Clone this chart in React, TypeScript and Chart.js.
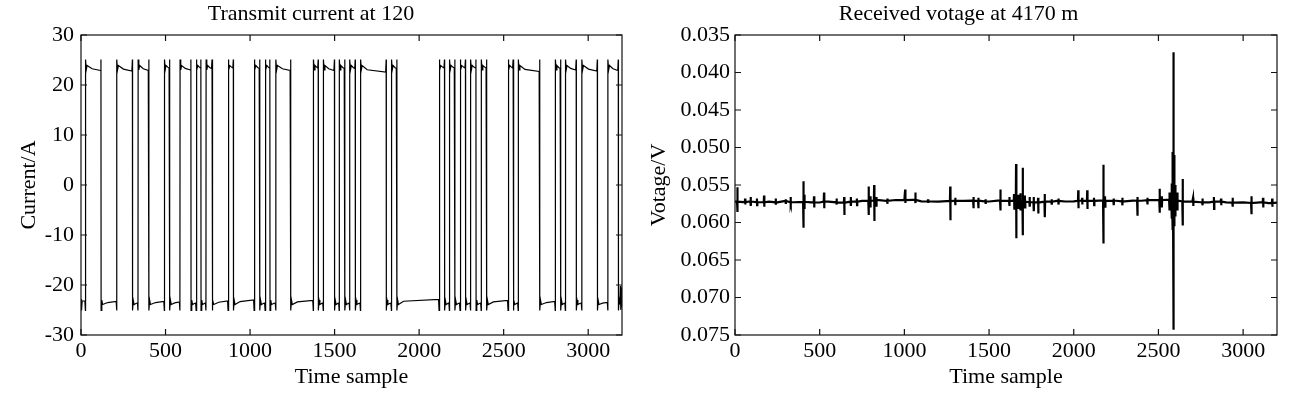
import React, { useEffect, useRef } from 'react';
import { Chart, registerables } from 'chart.js';

Chart.register(...registerables);

const SERIF = "'Liberation Serif', 'Times New Roman', Times, serif";

// ---------- tick labels ----------
const timeTicks = [0, 500, 1000, 1500, 2000, 2500, 3000];
const currentTicks = [-30, -20, -10, 0, 10, 20, 30];
const voltageTicks = [0.035, 0.04, 0.045, 0.05, 0.055, 0.06, 0.065, 0.07, 0.075];

// ---------- transmit current (left) ----------
// sample index of each polarity switch (starts low)
const switchTimes = [
  27, 119, 212, 305, 338, 402, 494, 525, 586, 651, 682, 710, 740, 776, 871, 902,
  1025, 1058, 1090, 1118, 1153, 1241, 1375, 1404, 1434, 1500, 1528, 1561, 1590, 1623,
  1654, 1806, 1837, 1869, 2119, 2151, 2180, 2212, 2243, 2275, 2305, 2337, 2368, 2400,
  2527, 2557, 2587, 2714, 2806, 2838, 2866, 2930, 2963, 3055, 3117, 3179,
];
// |current| at the end of each plateau (A)
const plateauEndLevels = [
  23.2, 22.9, 23.3, 22.8, 23.6, 22.9, 23.3, 23.4, 23.4, 23.0, 23.6, 23.4, 23.6, 23.3,
  23.2, 23.4, 23.0, 23.3, 23.6, 23.4, 23.6, 22.9, 23.1, 23.4, 23.6, 22.9, 23.6, 23.3,
  23.6, 23.3, 23.6, 22.6, 23.6, 23.3, 22.9, 23.4, 23.6, 23.4, 23.6, 23.4, 23.6, 23.4,
  23.6, 23.4, 23.1, 23.4, 23.6, 22.7, 23.3, 23.3, 23.6, 23.0, 23.6, 22.8, 23.5, 22.9,
  23.6,
];
const plateauStartLevel = 23.9;
const overshootLevel = 25.1;
const ringLevel = 23.0;
const tailTimes = [3190, 3193, 3196, 3199];
const tailValues = [-20.2, -25.0, -20.5, -24.5];

// ---------- received voltage (right) ----------
const baseTimes = [
  0, 50, 100, 150, 200, 250, 300, 350, 400, 450, 500, 550, 600, 650, 700, 750, 800, 850,
  900, 950, 1000, 1050, 1100, 1150, 1200, 1250, 1300, 1350, 1400, 1450, 1500, 1550, 1600,
  1650, 1700, 1750, 1800, 1850, 1900, 1950, 2000, 2050, 2100, 2150, 2200, 2250, 2300, 2350,
  2400, 2450, 2500, 2550, 2600, 2650, 2700, 2750, 2800, 2850, 2900, 2950, 3000, 3050, 3100,
  3150, 3200,
];
const baseValues = [
  0.05722, 0.05728, 0.05720, 0.05730, 0.05722, 0.05731, 0.05712, 0.05730, 0.05724, 0.05731,
  0.05733, 0.05722, 0.05731, 0.05734, 0.05722, 0.05712, 0.05710, 0.05702, 0.05712, 0.05700,
  0.05702, 0.05698, 0.05718, 0.05720, 0.05722, 0.05716, 0.05710, 0.05712, 0.05708, 0.05712,
  0.05720, 0.05708, 0.05712, 0.05710, 0.05722, 0.05730, 0.05732, 0.05722, 0.05712, 0.05720,
  0.05718, 0.05710, 0.05712, 0.05708, 0.05712, 0.05710, 0.05718, 0.05708, 0.05710, 0.05702,
  0.05700, 0.05698, 0.05708, 0.05718, 0.05722, 0.05730, 0.05732, 0.05722, 0.05732, 0.05734,
  0.05732, 0.05740, 0.05732, 0.05742, 0.05736,
];
// spike events: time, most-negative excursion (upward on reversed axis), most-positive excursion
const spikeTimes = [
  14, 60, 93, 130, 172, 241, 300, 329, 404, 410, 467, 526, 600, 645, 684, 720, 789, 800,
  822, 835, 900, 1005, 1065, 1140, 1271, 1301, 1408, 1437, 1480, 1567, 1620, 1648, 1660,
  1672, 1685, 1699, 1712, 1740, 1764, 1790, 1829, 1870, 1910, 2027, 2050, 2080, 2120, 2175,
  2185, 2236, 2287, 2376, 2435, 2507, 2520, 2565, 2578, 2583, 2588, 2593, 2600, 2612, 2643,
  2705, 2760, 2828, 2870, 2938, 3049, 3118, 3172,
];
const spikeUps = [
  0.0553, 0.0568, 0.0566, 0.0568, 0.0564, 0.0568, 0.0569, 0.0566, 0.0545, 0.0563, 0.0565,
  0.0560, 0.0568, 0.0566, 0.0566, 0.0568, 0.0552, 0.0565, 0.0550, 0.0566, 0.0568, 0.0556,
  0.0560, 0.0569, 0.0552, 0.0567, 0.0566, 0.0567, 0.0569, 0.0556, 0.0566, 0.0562, 0.0522,
  0.0563, 0.0561, 0.0527, 0.0564, 0.0566, 0.0566, 0.0567, 0.0562, 0.0569, 0.0568, 0.0557,
  0.0567, 0.0557, 0.0567, 0.0523, 0.0565, 0.0568, 0.0567, 0.0566, 0.0567, 0.0555, 0.0565,
  0.0560, 0.0548, 0.0506, 0.0373, 0.0510, 0.0550, 0.0560, 0.0542, 0.0567, 0.0568, 0.0566,
  0.0568, 0.0567, 0.0565, 0.0567, 0.0568,
];
const spikeDowns = [
  0.0586, 0.0576, 0.0578, 0.0577, 0.0579, 0.0576, 0.0575, 0.0575, 0.0607, 0.0582, 0.0580,
  0.0581, 0.0576, 0.0590, 0.0578, 0.0577, 0.0590, 0.0580, 0.0598, 0.0579, 0.0575, 0.0574,
  0.0574, 0.0574, 0.0597, 0.0577, 0.0581, 0.0581, 0.0575, 0.0584, 0.0578, 0.0583, 0.0621,
  0.0582, 0.0584, 0.0617, 0.0580, 0.0579, 0.0585, 0.0588, 0.0593, 0.0576, 0.0576, 0.0581,
  0.0576, 0.0582, 0.0577, 0.0628, 0.0579, 0.0577, 0.0577, 0.0591, 0.0576, 0.0587, 0.0580,
  0.0584, 0.0595, 0.0610, 0.0743, 0.0605, 0.0592, 0.0584, 0.0604, 0.0578, 0.0577, 0.0582,
  0.0577, 0.0579, 0.0589, 0.0580, 0.0579,
];

type P = { x: number; y: number };

function buildCurrent(): P[] {
  const pts: P[] = [];
  const n = switchTimes.length + 1;
  for (let i = 0; i < n; i++) {
    const a = i === 0 ? 0 : switchTimes[i - 1];
    const b = i === n - 1 ? 3200 : switchTimes[i];
    const s = i % 2 === 0 ? -1 : 1;
    const endLvl = plateauEndLevels[i];
    if (i === 0) {
      pts.push({ x: 0, y: s * 22.8 }, { x: 3, y: s * overshootLevel }, { x: 7, y: s * endLvl });
    } else {
      pts.push({ x: a, y: s * overshootLevel });
      pts.push({ x: a + 4, y: s * ringLevel });
      pts.push({ x: a + 9, y: s * plateauStartLevel });
      const knee = a + 9 + Math.min(30, (b - a) / 3);
      if (knee < b - 6) pts.push({ x: knee, y: s * (endLvl + 0.35 * (plateauStartLevel - endLvl)) });
    }
    if (i < n - 1) {
      pts.push({ x: b - 4, y: s * endLvl });
      pts.push({ x: b - 1, y: s * overshootLevel });
    } else {
      pts.push({ x: tailTimes[0] - 3, y: s * endLvl });
      tailTimes.forEach((t, k) => pts.push({ x: t, y: tailValues[k] }));
    }
  }
  return pts;
}

function nearestBase(t: number): number {
  let best = 0;
  for (let i = 0; i < baseTimes.length; i++) {
    if (Math.abs(baseTimes[i] - t) < Math.abs(baseTimes[best] - t)) best = i;
  }
  return baseValues[best];
}

function buildVoltage(): P[] {
  const pts: P[] = baseTimes.map((t, i) => ({ x: t, y: baseValues[i] }));
  spikeTimes.forEach((t, i) => {
    const b = nearestBase(t);
    pts.push({ x: t - 2, y: b });
    pts.push({ x: t - 0.5, y: spikeUps[i] });
    pts.push({ x: t + 0.5, y: spikeDowns[i] });
    pts.push({ x: t + 2, y: b });
  });
  pts.sort((p, q) => p.x - q.x);
  return pts;
}

const framePlugin = {
  id: 'matlabFrame',
  afterDraw(chart: any) {
    const { ctx, chartArea: a, scales } = chart;
    const L = 6;
    ctx.save();
    ctx.strokeStyle = '#111';
    ctx.lineWidth = 1.2;
    ctx.strokeRect(a.left, a.top, a.right - a.left, a.bottom - a.top);
    ctx.beginPath();
    scales.x.ticks.forEach((t: any) => {
      const px = scales.x.getPixelForValue(t.value);
      ctx.moveTo(px, a.bottom);
      ctx.lineTo(px, a.bottom - L);
      ctx.moveTo(px, a.top);
      ctx.lineTo(px, a.top + L);
    });
    scales.y.ticks.forEach((t: any) => {
      const py = scales.y.getPixelForValue(t.value);
      ctx.moveTo(a.left, py);
      ctx.lineTo(a.left + L, py);
      ctx.moveTo(a.right, py);
      ctx.lineTo(a.right - L, py);
    });
    ctx.stroke();
    ctx.restore();
  },
};

const font = { family: SERIF, size: 22, weight: 'normal' as const };

function makeConfig(opts: {
  data: P[];
  title: string;
  yTitle: string;
  yTicks: number[];
  yMin: number;
  yMax: number;
  reverse: boolean;
  yWidth: number;
  yTitlePad: number;
  yTickPad: number;
  rightPad: number;
  lineWidth: number;
  fmt: (v: number) => string;
}): any {
  return {
    type: 'line',
    data: {
      datasets: [
        {
          data: opts.data,
          borderColor: '#000',
          borderWidth: opts.lineWidth,
          pointRadius: 0,
          fill: false,
          tension: 0,
        },
      ],
    },
    options: {
      animation: false,
      responsive: false,
      maintainAspectRatio: false,
      layout: { padding: { left: 0, right: opts.rightPad, top: 0, bottom: 0 } },
      plugins: {
        legend: { display: false },
        tooltip: { enabled: false },
        title: {
          display: true,
          text: opts.title,
          color: '#000',
          font,
          padding: { top: 1, bottom: 7.6 },
        },
      },
      scales: {
        x: {
          type: 'linear',
          min: 0,
          max: 3200,
          afterBuildTicks: (s: any) => {
            s.ticks = timeTicks.map((v) => ({ value: v }));
          },
          afterFit: (s: any) => {
            s.height = 60;
          },
          ticks: {
            color: '#000',
            font,
            padding: 3,
            maxRotation: 0,
            autoSkip: false,
            callback: (v: any) => String(Math.round(Number(v))),
          },
          grid: { display: false, drawTicks: false },
          border: { display: false },
          title: {
            display: true,
            text: 'Time sample',
            color: '#000',
            font,
            padding: { top: 0, bottom: 5 },
          },
        },
        y: {
          type: 'linear',
          min: opts.yMin,
          max: opts.yMax,
          reverse: opts.reverse,
          afterBuildTicks: (s: any) => {
            s.ticks = opts.yTicks.map((v) => ({ value: v }));
          },
          afterFit: (s: any) => {
            s.width = opts.yWidth;
          },
          ticks: {
            color: '#000',
            font,
            padding: opts.yTickPad,
            autoSkip: false,
            callback: (v: any) => opts.fmt(Number(v)),
          },
          grid: { display: false, drawTicks: false },
          border: { display: false },
          title: {
            display: true,
            text: opts.yTitle,
            color: '#000',
            font,
            padding: { top: opts.yTitlePad, bottom: 0 },
          },
        },
      },
    },
    plugins: [framePlugin],
  };
}

export default function App() {
  const leftRef = useRef<HTMLCanvasElement>(null);
  const rightRef = useRef<HTMLCanvasElement>(null);

  useEffect(() => {
    const c1 = new Chart(
      leftRef.current!,
      makeConfig({
        data: buildCurrent(),
        title: 'Transmit current at 120',
        yTitle: 'Current/A',
        yTicks: currentTicks,
        yMin: -30,
        yMax: 30,
        reverse: false,
        yWidth: 81,
        yTitlePad: 16,
        yTickPad: 7,
        rightPad: 18,
        lineWidth: 1.2,
        fmt: (v) => String(Math.round(v)),
      })
    );
    const c2 = new Chart(
      rightRef.current!,
      makeConfig({
        data: buildVoltage(),
        title: 'Received votage at 4170 m',
        yTitle: 'Votage/V',
        yTicks: voltageTicks,
        yMin: 0.035,
        yMax: 0.075,
        reverse: true,
        yWidth: 95,
        yTitlePad: 6,
        yTickPad: 5,
        rightPad: 27,
        lineWidth: 2.2,
        fmt: (v) => v.toFixed(3),
      })
    );
    return () => {
      c1.destroy();
      c2.destroy();
    };
  }, []);

  return (
    <div
      style={{
        position: 'fixed',
        left: 0,
        top: 0,
        width: 1304,
        height: 395,
        background: '#fff',
        overflow: 'hidden',
      }}
    >
      <canvas
        ref={leftRef}
        width={640}
        height={395}
        style={{ position: 'absolute', left: 0, top: 0, width: 640, height: 395 }}
      />
      <canvas
        ref={rightRef}
        width={664}
        height={395}
        style={{ position: 'absolute', left: 640, top: 0, width: 664, height: 395 }}
      />
    </div>
  );
}
